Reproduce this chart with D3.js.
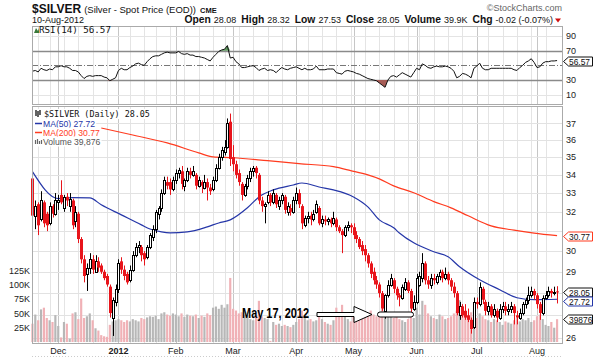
<!DOCTYPE html>
<html><head><meta charset="utf-8">
<script src="https://cdnjs.cloudflare.com/ajax/libs/d3/7.8.5/d3.min.js"></script>
<style>body{margin:0;background:#fff}svg{display:block}</style>
</head><body>
<svg id="c" width="594" height="358"></svg>
<script>
// ---------- DATA ----------
const monthKeys = ["2011-11","2011-12","2012-01","2012-02","2012-03","2012-04","2012-05","2012-06","2012-07","2012-08"];
const tradingDays = [
 [17,18,21,22,23,25,28,29,30],
 [1,2,5,6,7,8,9,12,13,14,15,16,19,20,21,22,23,27,28,29,30],
 [3,4,5,6,9,10,11,12,13,17,18,19,20,23,24,25,26,27,30,31],
 [1,2,3,6,7,8,9,10,13,14,15,16,17,21,22,23,24,27,28,29],
 [1,2,5,6,7,8,9,12,13,14,15,16,19,20,21,22,23,26,27,28,29,30],
 [2,3,4,5,9,10,11,12,13,16,17,18,19,20,23,24,25,26,27,30],
 [1,2,3,4,7,8,9,10,11,14,15,16,17,18,21,22,23,24,25,29,30,31],
 [1,4,5,6,7,8,11,12,13,14,15,18,19,20,21,22,25,26,27,28,29],
 [2,3,5,6,9,10,11,12,13,16,17,18,19,20,23,24,25,26,27,30,31],
 [1,2,3,6,7,8,9,10]
];
const monthLabels = ["Dec","2012","Feb","Mar","Apr","May","Jun","Jul","Aug"];

const open = [
 33.8,31.8,32.4,31.6,32.5,31.9,31.4,32.3,31.9,
 32.5,32.9,32.2,32.8,32.3,32.6,31.5,31.9,30.6,29.6,28.9,29.2,29.6,29.0,29.5,29.3,29.0,28.8,28.3,26.9,27.6,
 28.2,29.5,29.1,28.9,28.6,29.1,29.8,30.2,30.2,29.9,29.7,30.2,30.7,31.1,31.9,32.2,33.0,33.6,33.6,33.2,
 33.7,34.1,34.2,33.4,33.7,34.2,34.0,34.0,33.4,33.6,33.3,33.6,33.3,33.2,33.7,34.4,35.0,35.3,35.6,37.1,
 35.0,34.6,34.1,33.5,32.9,33.4,33.8,34.2,34.4,34.0,32.6,32.3,32.5,32.9,32.5,32.9,32.3,32.6,32.8,32.0,32.2,32.0,
 32.6,33.0,32.3,31.3,31.7,31.8,31.6,32.0,32.2,31.4,31.6,31.5,31.6,31.4,31.6,31.2,31.0,30.8,31.2,31.3,
 31.2,30.8,30.6,30.3,30.1,29.8,29.4,29.0,28.6,28.4,28.0,27.2,27.9,28.4,28.6,28.2,27.9,27.8,28.2,28.5,28.1,27.3,
 27.6,28.4,28.7,29.4,28.6,28.4,28.7,28.5,28.8,29.0,28.7,28.9,28.6,28.3,28.0,27.0,27.4,27.2,27.0,26.8,26.5,
 27.6,27.5,28.2,27.6,27.2,27.4,27.0,27.2,26.9,27.3,27.4,27.2,27.3,27.4,27.0,26.9,27.1,27.5,27.7,27.9,28.1,
 27.9,27.5,27.1,27.8,27.9,28.1,28.0,28.08
];
const high = [
 33.9,32.6,32.5,33.1,32.6,32.0,32.5,32.4,33.0,
 32.9,33.7,32.9,33.0,33.0,32.7,32.3,32.0,30.7,29.8,29.4,29.9,29.8,29.8,29.7,29.4,29.1,28.9,28.4,27.8,28.4,
 29.6,29.7,29.3,29.0,29.3,30.0,30.4,30.5,30.3,30.0,30.3,30.9,31.3,32.1,32.3,33.2,33.9,33.9,33.8,33.9,
 34.3,34.4,34.5,33.8,34.4,34.4,34.5,34.1,33.9,33.7,34.0,33.8,33.5,33.9,34.6,35.2,35.6,36.0,37.3,37.6,
 35.7,34.8,34.3,33.6,33.5,34.0,34.4,34.5,34.5,34.1,32.8,32.5,33.1,33.0,33.2,33.0,32.8,33.0,32.9,32.5,32.4,32.8,
 33.3,33.2,32.4,31.8,32.0,32.0,32.1,32.6,32.3,31.8,31.8,31.7,31.7,32.0,31.7,31.3,31.1,31.3,31.5,31.4,
 31.4,31.0,30.7,30.5,30.3,29.9,29.5,29.2,28.8,28.5,28.1,27.95,28.6,28.9,28.7,28.3,28.0,28.4,28.7,28.6,28.2,27.9,
 28.9,29.0,29.9,29.5,28.8,28.9,28.9,28.9,29.1,29.1,29.2,29.0,28.7,28.5,28.1,27.6,27.5,27.5,27.3,26.9,27.8,
 27.8,28.5,28.3,27.7,27.6,27.5,27.5,27.3,27.5,27.6,27.6,27.5,27.6,27.5,27.2,27.3,27.6,27.8,28.3,28.3,28.2,
 28.0,27.6,27.9,28.1,28.3,28.2,28.3,28.32
];
const low = [
 31.5,31.1,30.8,31.5,31.2,31.0,31.3,31.7,31.8,
 32.1,32.4,32.0,32.3,32.0,31.1,31.2,30.4,29.4,28.5,28.1,28.9,28.9,29.0,29.0,28.9,28.6,28.3,26.9,26.1,27.4,
 28.0,28.9,28.6,28.4,28.5,29.0,29.7,29.9,29.5,29.3,29.6,30.1,30.5,30.9,31.6,32.0,32.9,33.2,32.9,33.1,
 33.5,33.8,33.2,33.1,33.6,33.8,33.9,33.2,33.3,33.0,33.2,32.6,32.9,33.1,33.6,34.3,34.8,35.1,35.5,34.5,
 34.2,33.8,33.4,32.6,32.8,33.2,33.6,33.9,33.8,32.4,32.0,31.4,32.4,32.3,32.4,32.2,32.1,32.4,31.9,31.8,31.8,31.9,
 32.4,32.2,31.1,31.2,31.4,31.3,31.5,31.9,31.3,31.2,31.3,31.3,31.2,31.3,31.0,30.9,29.9,30.7,31.0,30.9,
 30.6,30.4,30.1,29.8,29.5,29.2,28.7,28.4,28.2,27.8,27.2,26.85,27.8,28.3,28.0,27.7,27.4,27.7,28.1,28.0,27.1,27.2,
 27.5,28.3,28.5,28.4,28.2,28.2,28.4,28.4,28.6,28.5,28.6,28.4,28.1,27.8,27.0,26.8,26.9,26.8,26.7,26.2,26.4,
 27.3,27.4,27.5,27.0,27.0,26.9,26.9,26.7,26.8,27.1,27.0,27.0,27.1,26.6,26.6,26.8,27.0,27.3,27.5,27.8,27.7,
 27.3,26.8,27.0,27.7,27.8,27.8,27.9,27.53
];
const close = [
 31.8,32.3,31.3,32.6,31.4,31.3,32.3,31.9,32.6,
 32.6,32.5,32.8,32.6,32.7,31.3,32.0,30.6,29.6,28.8,29.2,29.6,29.1,29.5,29.2,29.0,28.7,28.4,27.1,27.7,28.2,
 29.4,29.1,28.8,28.5,29.1,29.8,30.2,30.3,29.8,29.6,30.2,30.8,31.1,32.0,32.2,33.0,33.7,33.4,33.2,33.7,
 34.1,34.3,33.5,33.7,34.2,34.0,34.2,33.4,33.7,33.4,33.6,33.3,33.1,33.7,34.4,35.0,35.4,35.6,37.0,34.9,
 34.6,34.0,33.6,32.9,33.4,33.8,34.2,34.4,34.1,32.6,32.3,32.4,32.9,32.5,33.0,32.4,32.6,32.9,32.1,32.3,32.0,32.6,
 33.0,32.4,31.4,31.7,31.8,31.6,31.9,32.4,31.4,31.6,31.5,31.6,31.4,31.7,31.2,31.0,30.8,31.2,31.3,31.2,
 30.8,30.6,30.2,30.0,29.8,29.4,28.9,28.6,28.4,28.0,27.3,27.9,28.4,28.7,28.2,27.9,27.8,28.3,28.5,28.1,27.3,27.6,
 28.7,28.8,29.4,28.6,28.4,28.7,28.6,28.8,29.0,28.7,28.9,28.6,28.3,28.0,27.1,27.4,27.0,26.9,26.8,26.4,27.6,
 27.5,28.3,27.7,27.2,27.4,27.0,27.3,26.9,27.3,27.4,27.2,27.3,27.4,27.1,26.9,27.1,27.5,27.7,27.9,28.1,27.9,
 27.5,27.1,27.8,27.9,28.1,28.0,28.07,28.05
];
const volume = [
 32000,48000,38000,57000,60000,42000,38000,35000,47000,
 28000,8000,35000,32000,6000,50000,52000,40000,76000,42000,45000,50000,38000,24000,20000,12000,10000,9000,30000,36000,38000,
 40000,38000,35000,38000,36000,40000,38000,36000,42000,40000,43000,45000,44000,46000,40000,50000,52000,48000,46000,50000,
 48000,45000,50000,44000,48000,46000,45000,48000,42000,46000,44000,50000,47000,60000,62000,58000,65000,60000,66000,112000,
 58000,55000,50000,52000,48000,46000,40000,38000,44000,72000,45000,42000,40000,2000,35000,30000,32000,28000,30000,28000,26000,30000,
 35000,40000,55000,42000,38000,40000,36000,38000,44000,40000,35000,32000,30000,38000,60000,45000,65000,50000,40000,36000,
 45000,48000,50000,52000,45000,50000,55000,48000,45000,52000,58000,60000,50000,45000,42000,46000,40000,38000,35000,40000,45000,42000,
 60000,48000,72000,65000,50000,45000,42000,40000,48000,45000,40000,42000,45000,50000,55000,73000,48000,45000,42000,52000,55000,
 42000,50000,45000,40000,38000,35000,40000,38000,35000,30000,36000,34000,32000,38000,42000,36000,40000,38000,42000,35000,38000,
 45000,48000,40000,30000,28000,35000,25000,39876
];
const rsi = [
 42,43,41,46,44,43,45,44,48,
 48,49.5,48,48,46,43,43,41,36,32,35,36,35,36,36,36,34,33,29,31,33,
 43,46,44,44,47,49,52,53,51,50,55,59,62,63,63,65,67,68,67,67,
 67,69,66,65,66,64,64,62,62,61,60,58,56,61,65,69,71,72,77,60,
 61,55,52,47,47,48,49,49.5,47,43,45,46,43,44,43,40,44,47,45,44,46,47,
 48,46,44,46,44,44,45,49,44,44,44,45,45,45,40,39,38,42,43,42,
 41,39,38,36,34,32,31,30,29,26,23,20,30,35,36,34,37,40,38,36,34,40,
 46,44,52,50,47,46,48,49,48,48,49,48,46,42,33,35,39,38,36,33,46,
 49,53,46,44,44,46,46,46,46,46,46,46,46,44,43,47,50,54,56,59,54,
 47,48,53,55,55,56,56,56.57
];
// moving averages at sample bars (bar index, value)
const ma50Index = [0,9,14,20,24,31,38,41,45,48,54,61,65,69,75,79,84,91,94,100,105,112,117,121,126,128,133,140,145,149,156,163,169,175,183];
const ma50Value = [34.18,32.7,32.75,32.74,32.37,31.84,31.32,31.11,30.96,30.91,30.96,31.22,31.42,31.58,32.21,32.79,33.17,33.44,33.55,33.33,33.17,32.79,32.26,31.58,31.17,30.91,30.41,29.97,29.72,29.24,28.62,28.16,27.79,27.70,27.72];
const ma200Index = [24,35,47,58,63,70,82,93,105,111,117,121,126,133,140,146,152,160,168,175,183];
const ma200Value = [36.72,36.3,35.83,35.25,35.02,34.97,34.8,34.63,34.46,34.24,34.0,33.78,33.39,33.02,32.54,32.21,31.79,31.27,31.05,30.9,30.77];

const priceTicks = [26,27,28,29,30,31,32,33,34,35,36,37];
const volTicks = [25000,50000,75000,100000,125000];
const volTickLabels = ["25K","50K","75K","100K","125K"];
const rsiTicks = [10,30,50,70,90];

// ---------- SETUP ----------
const dates = [];
monthKeys.forEach((m,k)=>{ const [yy,mm]=m.split("-").map(Number); tradingDays[k].forEach(d=>dates.push(new Date(yy,mm-1,d))); });
const n = dates.length;

const L=32, R=562, rsiTop=26, rsiBot=104, pTop=106, pBot=343;
const FONT = "'Liberation Sans', Arial, sans-serif";
const MONO = "'DejaVu Sans Mono', 'Liberation Mono', monospace";

const svg = d3.select("#c");
const x = d3.scaleBand().domain(d3.range(n)).range([31, 558.5]);
const cx = i => x(i) + x.bandwidth()/2;
const px = i => Math.round(cx(i)) + 0.5;
const y = d3.scaleLog().domain([25.8, 38.07]).range([pBot, pTop]);
const yv = d3.scaleLinear().domain([0,125000]).range([342, 270.5]);
const yr = d3.scaleLinear().domain([0,100]).range([102, 28.7]);
const snap = v => Math.round(v) + 0.5;

svg.append("rect").attr("width",594).attr("height",358).attr("fill","#fff");

// tag positions (axis labels sitting behind tags are hidden)
const tagPrice = [ma200Value[ma200Value.length-1], close[n-1], ma50Value[ma50Value.length-1]].map(v=>y(v));
const tagVol = yv(volume[n-1]);
const tagRsi = yr(rsi[n-1]);
const hiddenBy = (yy, tags) => tags.some(t => Math.abs(t-yy) < 9);

const monthStart = [], weekStart = [];
for (let i=1;i<n;i++){
  if (dates[i].getMonth()!==dates[i-1].getMonth()) monthStart.push(i);
  else if (dates[i].getDay() < dates[i-1].getDay()) weekStart.push(i);
}

function vgrid(top,bot){
  svg.append("g").selectAll("line").data(weekStart).join("line")
    .attr("x1",i=>px(i)).attr("x2",i=>px(i)).attr("y1",top).attr("y2",bot)
    .attr("stroke","#e4e4e4").attr("stroke-width",1);
  svg.append("g").selectAll("line").data(monthStart).join("line")
    .attr("x1",i=>px(i)).attr("x2",i=>px(i)).attr("y1",top).attr("y2",bot)
    .attr("stroke","#c6c6c6").attr("stroke-width",1);
}

// ---------- RSI PANEL ----------
vgrid(rsiTop, rsiBot);
svg.append("g").selectAll("line").data(rsiTicks).join("line")
  .attr("x1",L).attr("x2",R).attr("y1",d=>snap(yr(d))).attr("y2",d=>snap(yr(d)))
  .attr("stroke",d=>(d===30||d===70)?"#8a8a8a":(d===50?"#777":"#e4e4e4"))
  .attr("stroke-width",d=>(d===30||d===70)?1.3:1)
  .attr("stroke-dasharray",d=>d===50?"6,2,1,2":null);
svg.append("path").datum(d3.range(n))
  .attr("d", d3.area().x(i=>cx(i)).y0(yr(70)).y1(i=>yr(Math.max(rsi[i],70))))
  .attr("fill","#5f9a5f");
svg.append("path").datum(d3.range(n))
  .attr("d", d3.area().x(i=>cx(i)).y0(yr(30)).y1(i=>yr(Math.min(rsi[i],30))))
  .attr("fill","#a65c56");
svg.append("path").datum(d3.range(n))
  .attr("d", d3.line().x(i=>cx(i)).y(i=>yr(rsi[i])))
  .attr("fill","none").attr("stroke","#111").attr("stroke-width",1);
svg.append("rect").attr("x",L+0.5).attr("y",rsiTop+0.5).attr("width",R-L).attr("height",rsiBot-rsiTop)
  .attr("fill","none").attr("stroke","#aaa");
svg.append("path").attr("d","M34,33 L36,28 L38,31 L39,28 L39,33 Z").attr("fill","#3a7a3a");
svg.append("text").attr("x",39).attr("y",33).attr("font-family",MONO).attr("font-size",9.2)
  .attr("fill","#111").text("RSI(14) 56.57");
svg.append("g").selectAll("text").data(rsiTicks.filter(d=>!hiddenBy(yr(d),[tagRsi]))).join("text")
  .attr("x",566).attr("y",d=>yr(d)+3.2).attr("font-family",FONT).attr("font-size",9)
  .attr("fill","#222").text(d=>d);

// ---------- PRICE PANEL ----------
vgrid(pTop, pBot);
svg.append("g").selectAll("line").data(priceTicks).join("line")
  .attr("x1",L).attr("x2",R).attr("y1",d=>snap(y(d))).attr("y2",d=>snap(y(d)))
  .attr("stroke","#e2e2e2");

const up = i => i===0 ? false : close[i] >= close[i-1];

svg.append("g").selectAll("rect").data(d3.range(n)).join("rect")
  .attr("x",i=>x(i)+0.35).attr("width",x.bandwidth()-0.7)
  .attr("y",i=>yv(volume[i])).attr("height",i=>yv(0)-yv(volume[i]))
  .attr("fill",i=>up(i)?"#b7b7b7":"#f0b1b6");

const maLine = d3.line().x(d=>cx(d[0])).y(d=>y(d[1])).curve(d3.curveMonotoneX);
svg.append("path").datum(ma200Index.map((k,j)=>[k,ma200Value[j]]))
  .attr("d",maLine).attr("fill","none").attr("stroke","#ff3b1f").attr("stroke-width",1.2);
svg.append("path").datum(ma50Index.map((k,j)=>[k,ma50Value[j]]))
  .attr("d",maLine).attr("fill","none").attr("stroke","#2536a8").attr("stroke-width",1.2);

const cg = svg.append("g");
d3.range(n).forEach(i=>{
  const col = up(i) ? "#000" : "#e8141b";
  const xc = px(i);
  cg.append("line").attr("x1",xc).attr("x2",xc).attr("y1",y(high[i])).attr("y2",y(low[i]))
    .attr("stroke",col).attr("stroke-width",1);
  const top = y(Math.max(open[i],close[i])), bot = y(Math.min(open[i],close[i]));
  if (close[i] > open[i]) {
    cg.append("rect").attr("x",xc-1).attr("width",2).attr("y",Math.round(top)+0.5)
      .attr("height",Math.max(1,Math.round(bot)-Math.round(top))).attr("fill","#fff").attr("stroke",col);
  } else {
    cg.append("rect").attr("x",xc-1.5).attr("width",3).attr("y",top)
      .attr("height",Math.max(1,bot-top)).attr("fill",col);
  }
});

svg.append("rect").attr("x",L+0.5).attr("y",pTop+0.5).attr("width",R-L).attr("height",pBot-pTop)
  .attr("fill","none").attr("stroke","#aaa");

function legendRow(xx, yy, txt, family, size, color){
  const g = svg.append("g");
  const r = g.append("rect").attr("fill","#fff");
  const t = g.append("text").attr("x",xx).attr("y",yy).attr("font-family",family).attr("font-size",size).attr("fill",color).text(txt);
  const b = t.node().getBBox();
  r.attr("x",33).attr("y",b.y).attr("width",b.x+b.width-33+1).attr("height",b.height);
}
legendRow(44,117,"$SILVER (Daily) 28.05",MONO,8.4,"#111");
legendRow(43,126.5,"MA(50) 27.72",FONT,8.6,"#2536a8");
legendRow(43,135.5,"MA(200) 30.77",FONT,8.6,"#ff3b1f");
legendRow(43,144.5,"Volume 39,876",FONT,8.6,"#555");
svg.append("path").attr("d","M36,110 V116 M38,111 V117 M40,110 V115").attr("stroke","#222").attr("stroke-width",1.4);
svg.append("line").attr("x1",35).attr("x2",42).attr("y1",123.5).attr("y2",123.5).attr("stroke","#2536a8").attr("stroke-width",1.5);
svg.append("line").attr("x1",35).attr("x2",42).attr("y1",132.5).attr("y2",132.5).attr("stroke","#ff3b1f").attr("stroke-width",1.5);
svg.append("path").attr("d","M35.5,144 V140 M37.5,144 V139 M39.5,144 V141 M41.5,144 V140").attr("stroke","#666").attr("stroke-width",1.2);

// annotation
svg.append("text").attr("x",242).attr("y",318).attr("font-family","'Liberation Sans Narrow','Liberation Sans',Arial,sans-serif")
  .attr("font-weight","bold").attr("font-size",14).attr("textLength",67).attr("lengthAdjust","spacingAndGlyphs")
  .attr("fill","#000").text("May 17, 2012");
svg.append("path").attr("d","M317,312.5 H354 V306.5 L372,314.5 L354,322.5 V316.5 H317 Z")
  .attr("fill","#fff").attr("stroke","#000").attr("stroke-width",1);
svg.append("rect").attr("x",377.5).attr("y",312).attr("width",36).attr("height",5).attr("rx",2.5)
  .attr("fill","#fff").attr("stroke","#000").attr("stroke-width",1);

// axis labels
svg.append("g").selectAll("text").data(priceTicks.filter(d=>!hiddenBy(y(d),tagPrice.concat([tagVol])))).join("text")
  .attr("x",566).attr("y",d=>y(d)+3.2).attr("font-family",FONT).attr("font-size",9)
  .attr("fill","#222").text(d=>d);
svg.append("g").selectAll("text").data(volTicks).join("text")
  .attr("x",30).attr("y",d=>yv(d)+3.2).attr("text-anchor","end").attr("font-family",FONT).attr("font-size",9)
  .attr("fill","#222").text((d,j)=>volTickLabels[j]);
svg.append("g").selectAll("text").data(monthStart).join("text")
  .attr("x",i=>cx(i)).attr("y",354).attr("text-anchor","middle").attr("font-family",FONT).attr("font-size",9)
  .attr("font-weight",(i,j)=>monthLabels[j]==="2012"?"bold":"normal")
  .attr("fill","#222").text((i,j)=>monthLabels[j]);
svg.append("line").attr("x1",L).attr("x2",R).attr("y1",356.5).attr("y2",356.5)
  .attr("stroke","#ccc").attr("stroke-dasharray","1,2");

// value tags
function tag(yc, txt, stroke){
  yc = Math.round(yc)+0.5;
  const x0=563.5, w=29, h=9;
  svg.append("path").attr("d",`M${x0},${yc} L${x0+5},${yc-h/2} H${x0+w} V${yc+h/2} H${x0+5} Z`)
    .attr("fill","#fff").attr("stroke",stroke).attr("stroke-width",1);
  svg.append("text").attr("x",x0+5.5).attr("y",yc+3).attr("font-family",FONT).attr("font-size",8.4)
    .attr("fill","#111").text(txt);
}
tag(tagPrice[0], "30.77", "#ff3b1f");
tag(tagPrice[1]-0.5, "28.05", "#111");
tag(tagPrice[2]+2, "27.72", "#2536a8");
tag(tagVol, "39876", "#111");
tag(tagRsi, "56.57", "#111");

// ---------- HEADER ----------
const h1 = svg.append("text").attr("x",32).attr("y",13).attr("font-family",FONT).attr("fill","#111");
h1.append("tspan").attr("font-weight","bold").attr("font-size",12).text("$SILVER");
h1.append("tspan").attr("font-size",9.5).attr("dx",3).text("(Silver - Spot Price (EOD))");
h1.append("tspan").attr("font-size",7.5).attr("font-weight","bold").attr("dx",4).text("CME");
svg.append("text").attr("x",562).attr("y",10.5).attr("text-anchor","end").attr("font-family",FONT)
  .attr("font-size",9).attr("fill","#666").text("\u00A9StockCharts.com");
svg.append("text").attr("x",32).attr("y",22.5).attr("font-family",FONT).attr("font-size",9).attr("fill","#111").text("10-Aug-2012");
const h2 = svg.append("text").attr("x",553).attr("y",22.5).attr("text-anchor","end").attr("font-family",FONT).attr("fill","#111");
[["Open","28.08"],["High","28.32"],["Low","27.53"],["Close","28.05"],["Volume","39.9K"],["Chg","-0.02 (-0.07%)"]].forEach(([a,b],k)=>{
  h2.append("tspan").attr("font-weight","bold").attr("font-size",10.3).attr("dx",k?5:0).text(a);
  h2.append("tspan").attr("font-size",9).attr("dx",3).text(b);
});
svg.append("path").attr("d","M555,18.5 H561 L558,22.5 Z").attr("fill","#d01010");
</script>
</body></html>
